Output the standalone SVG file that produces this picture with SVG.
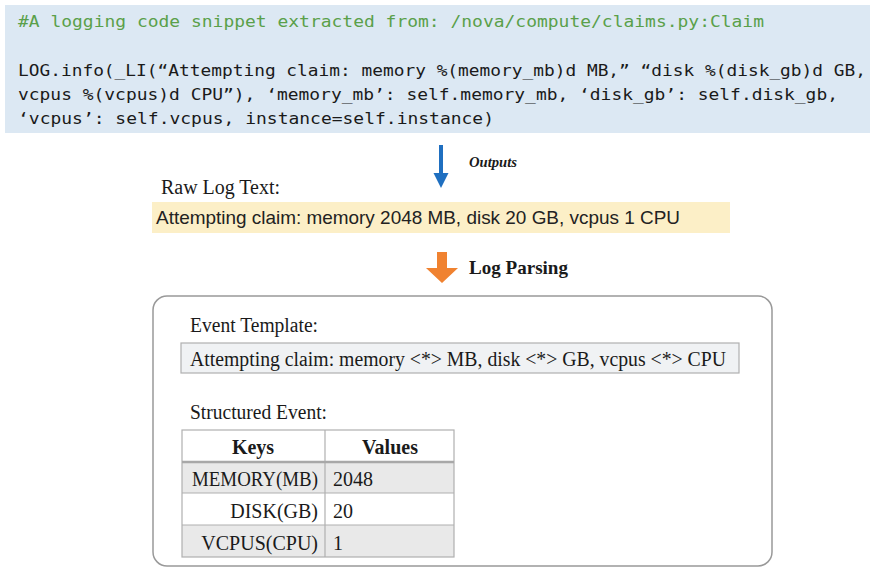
<svg xmlns="http://www.w3.org/2000/svg" width="870" height="568" viewBox="0 0 870 568">
<style>
.code{font-family:"DejaVu Sans Mono","Liberation Mono",monospace;font-size:16.5px;fill:#1a1a1a}
.cmt{fill:#5aa04a}
.serif{font-family:"Liberation Serif","Times New Roman",serif;fill:#1a1a1a}
.sans{font-family:"Liberation Sans",Arial,sans-serif;fill:#222}
.cell{stroke:#b0b0b0;stroke-width:1.2}
</style>
<g id="code-snippet">
<rect x="5" y="5" width="865" height="128" fill="#dce8f3"/>
<text class="code cmt" x="18" y="27" textLength="746" lengthAdjust="spacingAndGlyphs">#A logging code snippet extracted from: /nova/compute/claims.py:Claim</text>
<text class="code" x="18" y="76" textLength="848" lengthAdjust="spacingAndGlyphs">LOG.info(_LI(“Attempting claim: memory %(memory_mb)d MB,” “disk %(disk_gb)d GB,</text>
<text class="code" x="18" y="100" textLength="820" lengthAdjust="spacingAndGlyphs">vcpus %(vcpus)d CPU”), ‘memory_mb’: self.memory_mb, ‘disk_gb’: self.disk_gb,</text>
<text class="code" x="18" y="124" textLength="476" lengthAdjust="spacingAndGlyphs">‘vcpus’: self.vcpus, instance=self.instance)</text>
</g>
<g id="connectors">
<g id="outputs-arrow">
<line x1="441" y1="145" x2="441" y2="176" stroke="#1f6fc0" stroke-width="4"/>
<polygon points="433.5,173 448.5,173 441,188" fill="#1f6fc0"/>
<text class="serif" x="469" y="167" font-size="14.5" font-style="italic" font-weight="bold" fill="#333" textLength="48" lengthAdjust="spacingAndGlyphs">Outputs</text>
</g>
<g id="parsing-arrow">
<polygon points="437,252 447,252 447,268 458,268 442,283 426,268 437,268" fill="#f08230"/>
<text class="serif" x="469" y="274" font-size="19.5" font-weight="bold" textLength="99" lengthAdjust="spacingAndGlyphs">Log Parsing</text>
</g>
</g>
<g id="raw-log">
<text class="serif" x="161" y="194" font-size="20" textLength="119" lengthAdjust="spacingAndGlyphs">Raw Log Text:</text>
<rect x="152" y="202" width="578" height="31" fill="#fcefc7"/>
<text class="sans" x="156" y="224" font-size="19" textLength="524" lengthAdjust="spacingAndGlyphs">Attempting claim: memory 2048 MB, disk 20 GB, vcpus 1 CPU</text>
</g>
<g id="parsed-result">
<rect x="153" y="296" width="619" height="270" rx="14" fill="#fff" stroke="#999" stroke-width="1.5"/>
<text class="serif" x="190" y="332" font-size="20" textLength="128" lengthAdjust="spacingAndGlyphs">Event Template:</text>
<rect x="181" y="343" width="558" height="30" fill="#f0f2f4" stroke="#b0b0b0" stroke-width="1.2"/>
<text class="serif" x="190" y="366" font-size="20.5" textLength="536" lengthAdjust="spacingAndGlyphs">Attempting claim: memory &lt;*&gt; MB, disk &lt;*&gt; GB, vcpus &lt;*&gt; CPU</text>
<text class="serif" x="190" y="419" font-size="20" textLength="137" lengthAdjust="spacingAndGlyphs">Structured Event:</text>
<g id="table">
<rect x="182" y="430" width="272" height="32" fill="#fff"/>
<rect x="182" y="462" width="272" height="31" fill="#e9e9e9"/>
<rect x="182" y="493" width="272" height="32" fill="#fff"/>
<rect x="182" y="525" width="272" height="32" fill="#e9e9e9"/>
<rect class="cell" x="182" y="430" width="272" height="127" fill="none"/>
<line class="cell" x1="325" y1="430" x2="325" y2="557"/>
<line x1="182" y1="462" x2="454" y2="462" stroke="#a8a8a8" stroke-width="2.5"/>
<line class="cell" x1="182" y1="493" x2="454" y2="493"/>
<line class="cell" x1="182" y1="525" x2="454" y2="525"/>
<text class="serif" x="253" y="454" font-size="20" font-weight="bold" text-anchor="middle">Keys</text>
<text class="serif" x="390" y="454" font-size="20" font-weight="bold" text-anchor="middle">Values</text>
<text class="serif" x="318" y="486" font-size="20" text-anchor="end" textLength="126" lengthAdjust="spacingAndGlyphs">MEMORY(MB)</text>
<text class="serif" x="318" y="518" font-size="20" text-anchor="end">DISK(GB)</text>
<text class="serif" x="318" y="550" font-size="20" text-anchor="end">VCPUS(CPU)</text>
<text class="serif" x="333" y="486" font-size="20">2048</text>
<text class="serif" x="333" y="518" font-size="20">20</text>
<text class="serif" x="333" y="550" font-size="20">1</text>
</g>
</g>
</svg>
